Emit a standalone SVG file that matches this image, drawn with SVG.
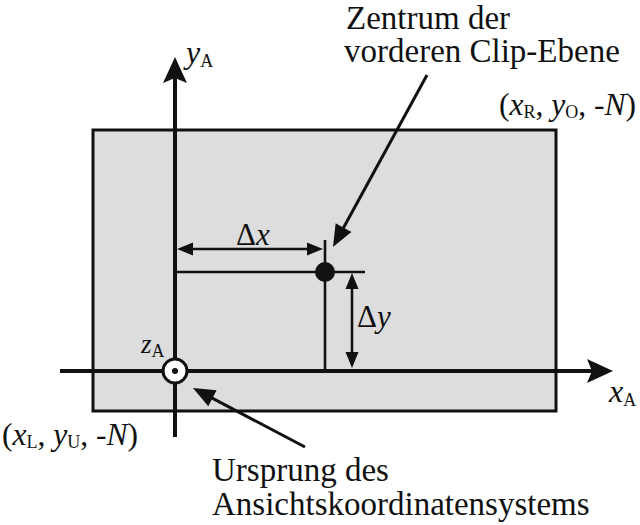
<svg xmlns="http://www.w3.org/2000/svg" width="640" height="525" viewBox="0 0 640 525">
<style>
text{font-family:'Liberation Serif','Times New Roman','DejaVu Serif',serif;fill:#111}
.lbl{font-size:33px}
.it{font-style:italic}
.sub{font-size:18px;font-style:normal}
.coord{font-size:31.5px}
.ax{font-size:32px}
.axis{stroke:#111;stroke-width:4;fill:none}
.thin{stroke:#111;stroke-width:2.6;fill:none}
.ptr{stroke:#111;stroke-width:3;fill:none}
</style>
<defs>
<marker id="axHead" markerUnits="userSpaceOnUse" orient="auto" refX="0" refY="0" overflow="visible">
<path d="M21,0 L-5,-12 L0,0 L-5,12 Z" fill="#111"/>
</marker>
<marker id="dimHead" markerUnits="userSpaceOnUse" orient="auto-start-reverse" refX="0" refY="0" overflow="visible">
<path d="M13,0 L-3,-6.5 L-3,6.5 Z" fill="#111"/>
</marker>
<marker id="ptrHead" markerUnits="userSpaceOnUse" orient="auto" refX="0" refY="0" overflow="visible">
<path d="M18,0 L-4,-9 L-4,9 Z" fill="#111"/>
</marker>
</defs>

<g id="plane">
<rect x="93" y="130" width="463" height="281" fill="#dddddd" stroke="#111" stroke-width="3"/>
</g>

<g id="connectors">
<line class="axis" x1="175" y1="437" x2="175" y2="78" marker-end="url(#axHead)"/>
<line class="axis" x1="60" y1="371" x2="592" y2="371" marker-end="url(#axHead)"/>
<line class="thin" x1="175" y1="272" x2="365" y2="272"/>
<line class="thin" x1="325" y1="240" x2="325" y2="371"/>
<line class="thin" x1="190" y1="249" x2="310" y2="249" marker-start="url(#dimHead)" marker-end="url(#dimHead)"/>
<line class="thin" x1="352" y1="286" x2="352" y2="355" marker-start="url(#dimHead)" marker-end="url(#dimHead)"/>
<line class="ptr" x1="427" y1="75" x2="341.6" y2="231.2" marker-end="url(#ptrHead)"/>
<line class="ptr" x1="305" y1="447" x2="208.9" y2="396.4" marker-end="url(#ptrHead)"/>
</g>

<g id="origin">
<circle cx="175" cy="371" r="12" fill="#fff" stroke="#111" stroke-width="3"/>
<circle cx="175" cy="371" r="3" fill="#111"/>
</g>

<g id="center">
<circle cx="325" cy="272" r="10" fill="#111"/>
</g>

<g id="labels">
<text class="ax it" x="186" y="63">y<tspan class="sub" dy="4">A</tspan></text>
<text class="ax it" x="609" y="402">x<tspan class="sub" dy="4">A</tspan></text>
<text class="it" font-size="27" x="141" y="353">z<tspan class="sub" dy="4">A</tspan></text>
<text font-size="31" x="236" y="245">Δ<tspan class="it">x</tspan></text>
<text font-size="31" x="357" y="327">Δ<tspan class="it">y</tspan></text>
<text class="coord" x="499" y="115">(<tspan class="it">x</tspan><tspan class="sub" dy="3">R</tspan><tspan dy="-3">, </tspan><tspan class="it">y</tspan><tspan class="sub" dy="3">O</tspan><tspan dy="-3">, -</tspan><tspan class="it">N</tspan>)</text>
<text class="coord" x="2" y="445">(<tspan class="it">x</tspan><tspan class="sub" dy="3">L</tspan><tspan dy="-3">, </tspan><tspan class="it">y</tspan><tspan class="sub" dy="3">U</tspan><tspan dy="-3">, -</tspan><tspan class="it">N</tspan>)</text>
<text class="lbl" x="346" y="29">Zentrum der</text>
<text class="lbl" x="344" y="62">vorderen Clip-Ebene</text>
<text class="lbl" x="212" y="481">Ursprung des</text>
<text class="lbl" x="212" y="515">Ansichtskoordinatensystems</text>
</g>
</svg>
